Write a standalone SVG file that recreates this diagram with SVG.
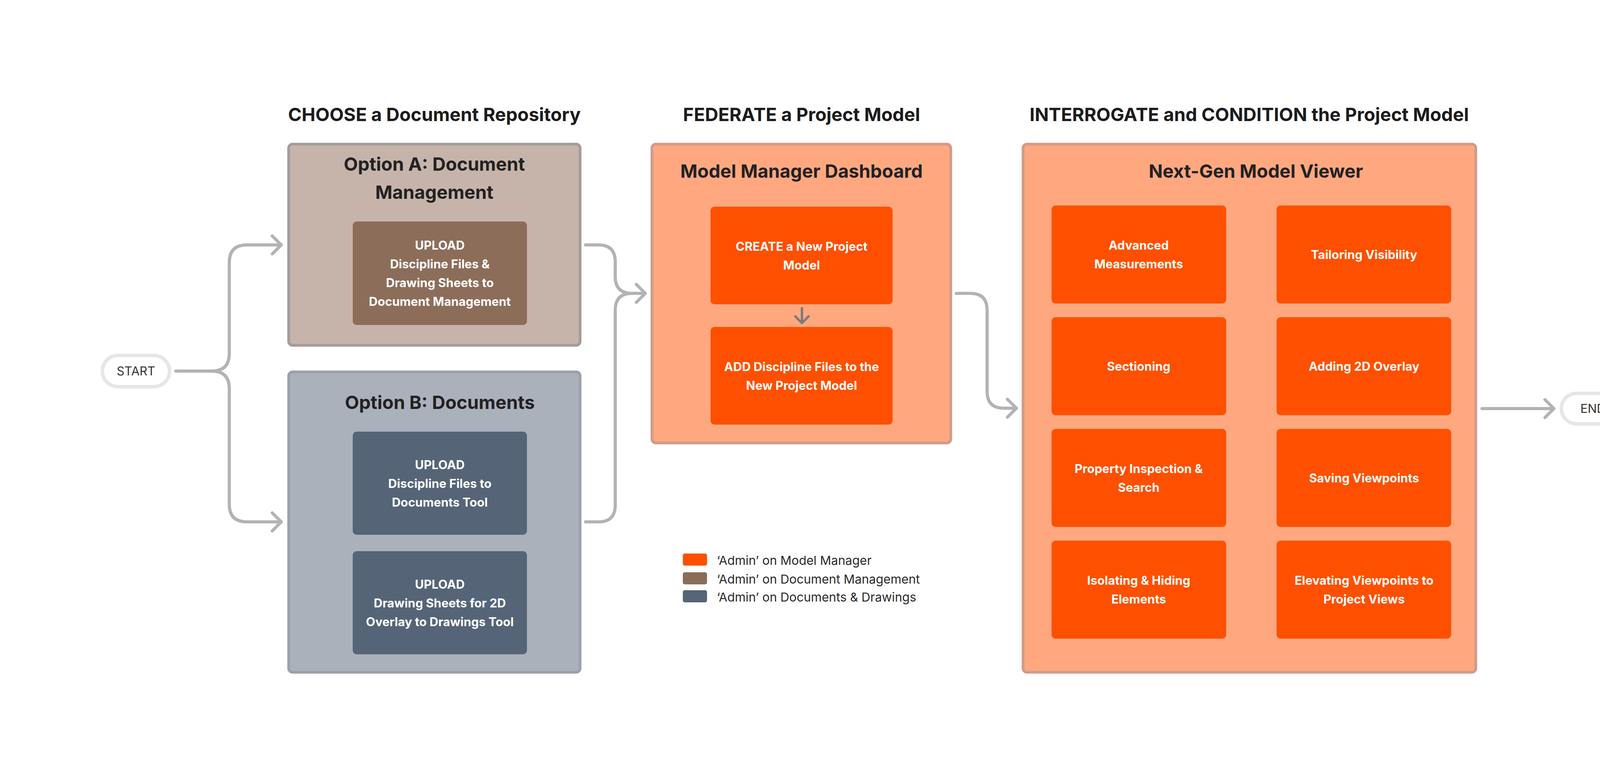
<svg xmlns="http://www.w3.org/2000/svg" width="4422" height="1984" viewBox="0 0 4422 1984">
<style>
text{font-family:Inter,"Liberation Sans",sans-serif;text-anchor:middle}
.h{font-size:47px;font-weight:700;fill:#1c1c1c}
.t{font-size:47px;font-weight:700;fill:#222}
.c{font-size:31px;font-weight:700;fill:#fff}
.lg{font-size:31.5px;fill:#2a2a2a;text-anchor:start}
.pill{fill:#fff;stroke:#e6e6e6;stroke-width:9}
.pt{font-size:31px;fill:#333}
.or{fill:#fe5000}
.con{fill:none;stroke:#b3b3b3;stroke-width:8;stroke-linecap:round;stroke-linejoin:round}
</style>
<rect width="4422" height="1984" fill="#fff"/>
<text class="h" x="1112" y="310">CHOOSE a Document Repository</text>
<text class="h" x="2052" y="310">FEDERATE a Project Model</text>
<text class="h" x="3198" y="310">INTERROGATE and CONDITION the Project Model</text>

<g id="start"><rect class="pill" x="262" y="910" width="172" height="80" rx="40"/><text class="pt" x="348" y="961">START</text></g>
<g id="end"><rect class="pill" x="3997" y="1007" width="162" height="78" rx="39"/><text class="pt" x="4078" y="1057">END</text></g>

<g id="optionA">
<rect x="739" y="369" width="746" height="515" rx="10" fill="#c6b4ab" stroke="#a39c9a" stroke-width="7"/>
<text class="t" x="1112" y="437">Option A: Document</text>
<text class="t" x="1112" y="509">Management</text>
<rect x="903" y="567" width="446" height="265" rx="10" fill="#8c6d59"/>
<text class="c" x="1126" y="639">UPLOAD</text>
<text class="c" x="1126" y="687">Discipline Files &amp;</text>
<text class="c" x="1126" y="735">Drawing Sheets to</text>
<text class="c" x="1126" y="783">Document Management</text>
</g>

<g id="optionB">
<rect x="739" y="952" width="746" height="769" rx="10" fill="#aab1bb" stroke="#9ca1a8" stroke-width="7"/>
<text class="t" x="1126" y="1047">Option B: Documents</text>
<rect x="903" y="1105" width="446" height="264" rx="10" fill="#556477"/>
<text class="c" x="1126" y="1201">UPLOAD</text>
<text class="c" x="1126" y="1249">Discipline Files to</text>
<text class="c" x="1126" y="1297">Documents Tool</text>
<rect x="903" y="1411" width="446" height="264" rx="10" fill="#556477"/>
<text class="c" x="1126" y="1507">UPLOAD</text>
<text class="c" x="1126" y="1555">Drawing Sheets for 2D</text>
<text class="c" x="1126" y="1603">Overlay to Drawings Tool</text>
</g>

<g id="modelManager">
<rect x="1669" y="369" width="765" height="765" rx="10" fill="#ffa880" stroke="#d29a8a" stroke-width="7"/>
<text class="t" x="2052" y="455">Model Manager Dashboard</text>
<rect class="or" x="1819" y="529" width="466" height="250" rx="10"/>
<text class="c" x="2052" y="642">CREATE a New Project</text>
<text class="c" x="2052" y="690">Model</text>
<rect class="or" x="1819" y="837" width="466" height="250" rx="10"/>
<text class="c" x="2052" y="950">ADD Discipline Files to the</text>
<text class="c" x="2052" y="998">New Project Model</text>
</g>

<g id="viewer">
<rect x="2619" y="369" width="1159" height="1352" rx="10" fill="#ffa880" stroke="#d29a8a" stroke-width="7"/>
<text class="t" x="3215" y="455">Next-Gen Model Viewer</text>
<g id="c1"><rect class="or" x="2692" y="526" width="447" height="251" rx="10"/><text class="c" x="2915" y="639">Advanced</text><text class="c" x="2915" y="687">Measurements</text></g>
<g id="c2"><rect class="or" x="3268" y="526" width="447" height="251" rx="10"/><text class="c" x="3492" y="663">Tailoring Visibility</text></g>
<g id="c3"><rect class="or" x="2692" y="812" width="447" height="251" rx="10"/><text class="c" x="2915" y="949">Sectioning</text></g>
<g id="c4"><rect class="or" x="3268" y="812" width="447" height="251" rx="10"/><text class="c" x="3492" y="949">Adding 2D Overlay</text></g>
<g id="c5"><rect class="or" x="2692" y="1098" width="447" height="251" rx="10"/><text class="c" x="2915" y="1211">Property Inspection &amp;</text><text class="c" x="2915" y="1259">Search</text></g>
<g id="c6"><rect class="or" x="3268" y="1098" width="447" height="251" rx="10"/><text class="c" x="3492" y="1235">Saving Viewpoints</text></g>
<g id="c7"><rect class="or" x="2692" y="1384" width="447" height="251" rx="10"/><text class="c" x="2915" y="1497">Isolating &amp; Hiding</text><text class="c" x="2915" y="1545">Elements</text></g>
<g id="c8"><rect class="or" x="3268" y="1384" width="447" height="251" rx="10"/><text class="c" x="3492" y="1497">Elevating Viewpoints to</text><text class="c" x="3492" y="1545">Project Views</text></g>
</g>

<g id="legend">
<rect x="1748" y="1417" width="62" height="31" rx="5" fill="#fe5000"/>
<rect x="1748" y="1465" width="62" height="31" rx="5" fill="#8c6d59"/>
<rect x="1748" y="1511" width="62" height="31" rx="5" fill="#556477"/>
<text class="lg" x="1835" y="1446">‘Admin’ on Model Manager</text>
<text class="lg" x="1835" y="1494">‘Admin’ on Document Management</text>
<text class="lg" x="1835" y="1540">‘Admin’ on Documents &amp; Drawings</text>
</g>

<g id="connectors">
<path class="con" d="M450 950 H542 Q587 950 587 905 V672 Q587 627 632 627 H720"/>
<path class="con" d="M697 604 L720 627 L697 650"/>
<path class="con" d="M542 950 Q587 950 587 995 V1291 Q587 1336 632 1336 H720"/>
<path class="con" d="M697 1313 L720 1336 L697 1359"/>
<path class="con" d="M1499 627 H1532 Q1575 627 1575 670 V708 Q1575 751 1618 751 H1652"/>
<path class="con" d="M1499 1336 H1532 Q1575 1336 1575 1293 V794 Q1575 751 1618 751"/>
<path class="con" d="M1629 728 L1652 751 L1629 774"/>
<path class="con" d="M2448 751 H2484 Q2527 751 2527 794 V1002 Q2527 1045 2570 1045 H2602"/>
<path class="con" d="M2579 1022 L2602 1045 L2579 1068"/>
<path class="con" d="M3794 1046 H3978"/>
<path class="con" d="M3955 1023 L3978 1046 L3955 1069"/>
<path d="M2053 789 V827 M2036 810 L2053 827 L2070 810" fill="none" stroke="#7a7a7a" stroke-width="6" stroke-linecap="round" stroke-linejoin="round"/>
</g>
</svg>
